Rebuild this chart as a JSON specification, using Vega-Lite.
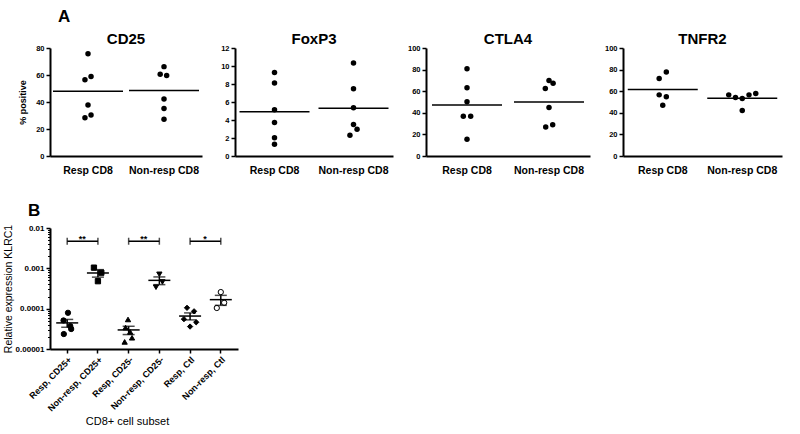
{
"$schema": "https://vega.github.io/schema/vega-lite/v6.json",
"background": "white",
"padding": {"left": 3, "top": 8, "right": 5, "bottom": 2},
"config": {
  "font": "Liberation Sans",
  "view": {"stroke": null},
  "axis": {"domainColor": "black", "domainWidth": 2, "tickColor": "black", "tickWidth": 1.5, "tickSize": 4, "labelColor": "black", "titleColor": "black", "labelFont": "Liberation Sans", "titleFont": "Liberation Sans", "grid": false, "labelPadding": 2, "labelOverlap": false},
  "title": {"font": "Liberation Sans", "fontWeight": "bold", "color": "black"}
},
"datasets": {
  "a": [
    {"marker": "CD25", "group": "Resp CD8", "value": 75.7, "jitter": 0},
    {"marker": "CD25", "group": "Resp CD8", "value": 58.9, "jitter": 0.08},
    {"marker": "CD25", "group": "Resp CD8", "value": 56.4, "jitter": -0.08},
    {"marker": "CD25", "group": "Resp CD8", "value": 37.7, "jitter": 0},
    {"marker": "CD25", "group": "Resp CD8", "value": 30.4, "jitter": 0.08},
    {"marker": "CD25", "group": "Resp CD8", "value": 28.4, "jitter": -0.08},
    {"marker": "CD25", "group": "Non-resp CD8", "value": 66.2, "jitter": 0},
    {"marker": "CD25", "group": "Non-resp CD8", "value": 60.6, "jitter": -0.1},
    {"marker": "CD25", "group": "Non-resp CD8", "value": 59.6, "jitter": 0.07},
    {"marker": "CD25", "group": "Non-resp CD8", "value": 42.3, "jitter": 0},
    {"marker": "CD25", "group": "Non-resp CD8", "value": 35.2, "jitter": 0},
    {"marker": "CD25", "group": "Non-resp CD8", "value": 27.2, "jitter": 0},
    {"marker": "FoxP3", "group": "Resp CD8", "value": 9.29, "jitter": 0},
    {"marker": "FoxP3", "group": "Resp CD8", "value": 8.1, "jitter": 0},
    {"marker": "FoxP3", "group": "Resp CD8", "value": 5.13, "jitter": 0},
    {"marker": "FoxP3", "group": "Resp CD8", "value": 3.72, "jitter": 0},
    {"marker": "FoxP3", "group": "Resp CD8", "value": 2.04, "jitter": 0},
    {"marker": "FoxP3", "group": "Resp CD8", "value": 1.3, "jitter": 0},
    {"marker": "FoxP3", "group": "Non-resp CD8", "value": 10.33, "jitter": 0},
    {"marker": "FoxP3", "group": "Non-resp CD8", "value": 7.47, "jitter": 0},
    {"marker": "FoxP3", "group": "Non-resp CD8", "value": 5.35, "jitter": 0},
    {"marker": "FoxP3", "group": "Non-resp CD8", "value": 3.49, "jitter": 0},
    {"marker": "FoxP3", "group": "Non-resp CD8", "value": 2.97, "jitter": 0.09},
    {"marker": "FoxP3", "group": "Non-resp CD8", "value": 2.3, "jitter": -0.09},
    {"marker": "CTLA4", "group": "Resp CD8", "value": 80.7, "jitter": 0},
    {"marker": "CTLA4", "group": "Resp CD8", "value": 63.1, "jitter": 0},
    {"marker": "CTLA4", "group": "Resp CD8", "value": 50.3, "jitter": 0},
    {"marker": "CTLA4", "group": "Resp CD8", "value": 36.9, "jitter": -0.09},
    {"marker": "CTLA4", "group": "Resp CD8", "value": 36.9, "jitter": 0.09},
    {"marker": "CTLA4", "group": "Resp CD8", "value": 15.5, "jitter": 0},
    {"marker": "CTLA4", "group": "Non-resp CD8", "value": 69.9, "jitter": 0},
    {"marker": "CTLA4", "group": "Non-resp CD8", "value": 67.3, "jitter": 0.1},
    {"marker": "CTLA4", "group": "Non-resp CD8", "value": 62.5, "jitter": -0.09},
    {"marker": "CTLA4", "group": "Non-resp CD8", "value": 44.9, "jitter": 0},
    {"marker": "CTLA4", "group": "Non-resp CD8", "value": 28.9, "jitter": 0.09},
    {"marker": "CTLA4", "group": "Non-resp CD8", "value": 26.8, "jitter": -0.08},
    {"marker": "TNFR2", "group": "Resp CD8", "value": 77.7, "jitter": 0.09},
    {"marker": "TNFR2", "group": "Resp CD8", "value": 71.7, "jitter": -0.09},
    {"marker": "TNFR2", "group": "Resp CD8", "value": 56.6, "jitter": -0.09},
    {"marker": "TNFR2", "group": "Resp CD8", "value": 54.8, "jitter": 0.09},
    {"marker": "TNFR2", "group": "Resp CD8", "value": 47.0, "jitter": 0},
    {"marker": "TNFR2", "group": "Non-resp CD8", "value": 56.6, "jitter": -0.34},
    {"marker": "TNFR2", "group": "Non-resp CD8", "value": 54.2, "jitter": -0.17},
    {"marker": "TNFR2", "group": "Non-resp CD8", "value": 53.3, "jitter": 0},
    {"marker": "TNFR2", "group": "Non-resp CD8", "value": 56.6, "jitter": 0.17},
    {"marker": "TNFR2", "group": "Non-resp CD8", "value": 57.8, "jitter": 0.34},
    {"marker": "TNFR2", "group": "Non-resp CD8", "value": 42.2, "jitter": 0}
  ],
  "b": [
    {"subset": "Resp, CD25+", "value": 0.000079, "jitter": 0.05},
    {"subset": "Resp, CD25+", "value": 0.000051, "jitter": -0.24},
    {"subset": "Resp, CD25+", "value": 0.000037, "jitter": 0.2},
    {"subset": "Resp, CD25+", "value": 0.0000313, "jitter": 0.26},
    {"subset": "Resp, CD25+", "value": 0.0000235, "jitter": -0.22},
    {"subset": "Non-resp, CD25+", "value": 0.00104, "jitter": -0.26},
    {"subset": "Non-resp, CD25+", "value": 0.00078, "jitter": 0.22},
    {"subset": "Non-resp, CD25+", "value": 0.00048, "jitter": 0},
    {"subset": "Resp, CD25-", "value": 0.000054, "jitter": -0.04},
    {"subset": "Resp, CD25-", "value": 0.000034, "jitter": -0.2},
    {"subset": "Resp, CD25-", "value": 0.0000265, "jitter": 0.1},
    {"subset": "Resp, CD25-", "value": 0.000019, "jitter": 0.22},
    {"subset": "Resp, CD25-", "value": 0.000015, "jitter": -0.26},
    {"subset": "Non-resp, CD25-", "value": 0.00071, "jitter": 0},
    {"subset": "Non-resp, CD25-", "value": 0.00046, "jitter": 0.2},
    {"subset": "Non-resp, CD25-", "value": 0.00034, "jitter": -0.22},
    {"subset": "Resp, Ctl", "value": 0.000105, "jitter": -0.2},
    {"subset": "Resp, Ctl", "value": 0.000086, "jitter": 0.26},
    {"subset": "Resp, Ctl", "value": 0.000055, "jitter": -0.4},
    {"subset": "Resp, Ctl", "value": 0.000046, "jitter": 0.4},
    {"subset": "Resp, Ctl", "value": 0.000036, "jitter": 0},
    {"subset": "Non-resp, Ctl", "value": 0.000258, "jitter": 0},
    {"subset": "Non-resp, Ctl", "value": 0.00014, "jitter": 0.22},
    {"subset": "Non-resp, Ctl", "value": 0.000104, "jitter": -0.26}
  ],
  "br": [
    {"from": "Resp, CD25+", "to": "Non-resp, CD25+", "value": 0.0047, "label": "**"},
    {"from": "Resp, CD25-", "to": "Non-resp, CD25-", "value": 0.0047, "label": "**"},
    {"from": "Resp, Ctl", "to": "Non-resp, Ctl", "value": 0.0047, "label": "*"}
  ]
},
"title": {"text": "A", "anchor": "start", "frame": "group", "fontSize": 17, "dx": 8, "offset": 6},
"spacing": 26,
"resolve": {"scale": {"xOffset": "independent"}},
"vconcat": [
 {
 "bounds": "flush",
 "spacing": 33,
 "resolve": {"scale": {"xOffset": "independent"}},
 "hconcat": [
  {
    "width": 152, "height": 108,
    "title": {"text": "CD25", "fontSize": 15, "offset": -3},
    "data": {"name": "a"},
    "transform": [{"filter": "datum.marker == 'CD25'"}],
    "encoding": {"x": {"field": "group", "type": "nominal", "scale": {"domain": ["Resp CD8", "Non-resp CD8"], "paddingInner": 0, "paddingOuter": 0}, "axis": {"title": null, "labelAngle": 0, "ticks": false, "labelPadding": 9, "labelFontSize": 10.5, "labelFontWeight": "bold", "labelLimit": 200}}},
    "layer": [
      {"mark": {"type": "circle", "size": 30, "color": "black", "opacity": 1},
       "encoding": {"y": {"field": "value", "type": "quantitative", "scale": {"domain": [0, 80], "nice": false}, "axis": {"values": [0, 20, 40, 60, 80], "labelOverlap": false, "title": "% positive", "titleFontSize": 9, "titleFontWeight": "bold", "titlePadding": 8, "labelFontSize": 7.5, "labelFontWeight": "bold"}},
                    "xOffset": {"field": "jitter", "type": "quantitative", "scale": {"domain": [-1, 1], "range": [0, 76]}}}},
      {"mark": {"type": "tick", "orient": "horizontal", "size": 70, "thickness": 1.5, "color": "black"},
       "encoding": {"y": {"aggregate": "mean", "field": "value", "type": "quantitative", "axis": {"values": [0, 20, 40, 60, 80], "labelOverlap": false, "title": "% positive", "titleFontSize": 9, "titleFontWeight": "bold", "titlePadding": 8, "labelFontSize": 7.5, "labelFontWeight": "bold"}}}}
    ]
  },
  {
    "width": 158, "height": 108,
    "title": {"text": "FoxP3", "fontSize": 15, "offset": -3},
    "data": {"name": "a"},
    "transform": [{"filter": "datum.marker == 'FoxP3'"}],
    "encoding": {"x": {"field": "group", "type": "nominal", "scale": {"domain": ["Resp CD8", "Non-resp CD8"], "paddingInner": 0, "paddingOuter": 0}, "axis": {"title": null, "labelAngle": 0, "ticks": false, "labelPadding": 9, "labelFontSize": 10.5, "labelFontWeight": "bold", "labelLimit": 200}}},
    "layer": [
      {"mark": {"type": "circle", "size": 30, "color": "black", "opacity": 1},
       "encoding": {"y": {"field": "value", "type": "quantitative", "scale": {"domain": [0, 12], "nice": false}, "axis": {"values": [0, 2, 4, 6, 8, 10, 12], "labelOverlap": false, "title": null, "labelFontSize": 7.5, "labelFontWeight": "bold"}},
                    "xOffset": {"field": "jitter", "type": "quantitative", "scale": {"domain": [-1, 1], "range": [0, 79]}}}},
      {"mark": {"type": "tick", "orient": "horizontal", "size": 70, "thickness": 1.5, "color": "black"},
       "encoding": {"y": {"aggregate": "mean", "field": "value", "type": "quantitative", "axis": {"values": [0, 2, 4, 6, 8, 10, 12], "labelOverlap": false, "title": null, "labelFontSize": 7.5, "labelFontWeight": "bold"}}}}
    ]
  },
  {
    "width": 164, "height": 108,
    "title": {"text": "CTLA4", "fontSize": 15, "offset": -3},
    "data": {"name": "a"},
    "transform": [{"filter": "datum.marker == 'CTLA4'"}],
    "encoding": {"x": {"field": "group", "type": "nominal", "scale": {"domain": ["Resp CD8", "Non-resp CD8"], "paddingInner": 0, "paddingOuter": 0}, "axis": {"title": null, "labelAngle": 0, "ticks": false, "labelPadding": 9, "labelFontSize": 10.5, "labelFontWeight": "bold", "labelLimit": 200}}},
    "layer": [
      {"mark": {"type": "circle", "size": 30, "color": "black", "opacity": 1},
       "encoding": {"y": {"field": "value", "type": "quantitative", "scale": {"domain": [0, 100], "nice": false}, "axis": {"values": [0, 20, 40, 60, 80, 100], "labelOverlap": false, "title": null, "labelFontSize": 7.5, "labelFontWeight": "bold"}},
                    "xOffset": {"field": "jitter", "type": "quantitative", "scale": {"domain": [-1, 1], "range": [0, 82]}}}},
      {"mark": {"type": "tick", "orient": "horizontal", "size": 70, "thickness": 1.5, "color": "black"},
       "encoding": {"y": {"aggregate": "mean", "field": "value", "type": "quantitative", "axis": {"values": [0, 20, 40, 60, 80, 100], "labelOverlap": false, "title": null, "labelFontSize": 7.5, "labelFontWeight": "bold"}}}}
    ]
  },
  {
    "width": 159, "height": 108,
    "title": {"text": "TNFR2", "fontSize": 15, "offset": -3},
    "data": {"name": "a"},
    "transform": [{"filter": "datum.marker == 'TNFR2'"}],
    "encoding": {"x": {"field": "group", "type": "nominal", "scale": {"domain": ["Resp CD8", "Non-resp CD8"], "paddingInner": 0, "paddingOuter": 0}, "axis": {"title": null, "labelAngle": 0, "ticks": false, "labelPadding": 9, "labelFontSize": 10.5, "labelFontWeight": "bold", "labelLimit": 200}}},
    "layer": [
      {"mark": {"type": "circle", "size": 30, "color": "black", "opacity": 1},
       "encoding": {"y": {"field": "value", "type": "quantitative", "scale": {"domain": [0, 100], "nice": false}, "axis": {"values": [0, 20, 40, 60, 80, 100], "labelOverlap": false, "title": null, "labelFontSize": 7.5, "labelFontWeight": "bold"}},
                    "xOffset": {"field": "jitter", "type": "quantitative", "scale": {"domain": [-1, 1], "range": [0, 79.5]}}}},
      {"mark": {"type": "tick", "orient": "horizontal", "size": 70, "thickness": 1.5, "color": "black"},
       "encoding": {"y": {"aggregate": "mean", "field": "value", "type": "quantitative", "axis": {"values": [0, 20, 40, 60, 80, 100], "labelOverlap": false, "title": null, "labelFontSize": 7.5, "labelFontWeight": "bold"}}}}
    ]
  }
 ]
 },
  {
    "width": 188, "height": 121,
    "title": {"text": "B", "anchor": "start", "frame": "group", "fontSize": 17, "dx": -22, "offset": 4},
    "resolve": {"axis": {"y": "independent"}},
    "layer": [
      {"data": {"name": "b"},
       "mark": {"type": "point", "filled": true, "size": 28, "stroke": "black", "strokeWidth": 1, "opacity": 1},
       "encoding": {
         "x": {"field": "subset", "type": "nominal", "scale": {"domain": ["Resp, CD25+", "Non-resp, CD25+", "Resp, CD25-", "Non-resp, CD25-", "Resp, Ctl", "Non-resp, Ctl"], "paddingInner": 0, "paddingOuter": 0.06}, "axis": {"title": "CD8+ cell subset", "titleX": 77, "labelAngle": -45, "labelFontSize": 9, "labelFontWeight": "bold", "labelLimit": 200, "titleFontSize": 11, "titleFontWeight": "normal", "titlePadding": 3}},
         "xOffset": {"field": "jitter", "type": "quantitative", "scale": {"domain": [-1, 1], "range": [0, 30.72]}},
         "y": {"field": "value", "type": "quantitative", "scale": {"type": "log", "domain": [0.00001, 0.01], "nice": false}, "axis": {"orient": "left", "values": [0.00001, 0.0001, 0.001, 0.01], "format": ".5~f", "title": "Relative expression KLRC1", "titleFontSize": 10.5, "titleFontWeight": "normal", "titlePadding": 2, "labelFontSize": 8, "labelFontWeight": "bold"}},
         "shape": {"field": "subset", "type": "nominal", "scale": {"domain": ["Resp, CD25+", "Non-resp, CD25+", "Resp, CD25-", "Non-resp, CD25-", "Resp, Ctl", "Non-resp, Ctl"], "range": ["circle", "square", "triangle-up", "triangle-down", "diamond", "circle"]}, "legend": null},
         "fill": {"field": "subset", "type": "nominal", "scale": {"domain": ["Resp, CD25+", "Non-resp, CD25+", "Resp, CD25-", "Non-resp, CD25-", "Resp, Ctl", "Non-resp, Ctl"], "range": ["black", "black", "black", "black", "black", "white"]}, "legend": null}
       }},
      {"data": {"name": "b"},
       "mark": {"type": "tick", "orient": "horizontal", "size": 22, "thickness": 1.5, "color": "black"},
       "encoding": {
         "x": {"field": "subset", "type": "nominal", "scale": {"domain": ["Resp, CD25+", "Non-resp, CD25+", "Resp, CD25-", "Non-resp, CD25-", "Resp, Ctl", "Non-resp, Ctl"], "paddingInner": 0, "paddingOuter": 0.06}, "axis": {"title": "CD8+ cell subset", "titleX": 77, "labelAngle": -45, "labelFontSize": 9, "labelFontWeight": "bold", "labelLimit": 200, "titleFontSize": 11, "titleFontWeight": "normal", "titlePadding": 3}},
         "y": {"aggregate": "mean", "field": "value", "type": "quantitative", "axis": {"orient": "left", "values": [0.00002, 0.00003, 0.00004, 0.00005, 0.00006, 0.00007, 0.00008, 0.00009, 0.0002, 0.0003, 0.0004, 0.0005, 0.0006, 0.0007, 0.0008, 0.0009, 0.002, 0.003, 0.004, 0.005, 0.006, 0.007, 0.008, 0.009], "labels": false, "domain": false, "tickSize": 2.5, "tickWidth": 1, "title": null}}
       }},
      {"data": {"name": "b"},
       "mark": {"type": "errorbar", "extent": "stderr", "ticks": {"size": 12, "thickness": 1.5, "color": "black"}, "thickness": 1.5, "color": "black"},
       "encoding": {
         "x": {"field": "subset", "type": "nominal", "scale": {"domain": ["Resp, CD25+", "Non-resp, CD25+", "Resp, CD25-", "Non-resp, CD25-", "Resp, Ctl", "Non-resp, Ctl"], "paddingInner": 0, "paddingOuter": 0.06}, "axis": {"title": "CD8+ cell subset", "titleX": 77, "labelAngle": -45, "labelFontSize": 9, "labelFontWeight": "bold", "labelLimit": 200, "titleFontSize": 11, "titleFontWeight": "normal", "titlePadding": 3}},
         "y": {"field": "value", "type": "quantitative", "axis": null}
       }},
      {"data": {"name": "br"},
       "mark": {"type": "rule", "strokeWidth": 1.5, "color": "black"},
       "encoding": {
         "x": {"field": "from", "type": "nominal", "bandPosition": 0.5, "scale": {"domain": ["Resp, CD25+", "Non-resp, CD25+", "Resp, CD25-", "Non-resp, CD25-", "Resp, Ctl", "Non-resp, Ctl"], "paddingInner": 0, "paddingOuter": 0.06}, "axis": {"title": "CD8+ cell subset", "titleX": 77, "labelAngle": -45, "labelFontSize": 9, "labelFontWeight": "bold", "labelLimit": 200, "titleFontSize": 11, "titleFontWeight": "normal", "titlePadding": 3}},
         "x2": {"field": "to", "bandPosition": 0.5},
         "y": {"field": "value", "type": "quantitative", "axis": null}
       }},
      {"data": {"name": "br"},
       "transform": [{"fold": ["from", "to"], "as": ["end", "cat"]}],
       "mark": {"type": "tick", "orient": "vertical", "size": 7, "thickness": 1.5, "color": "black"},
       "encoding": {
         "x": {"field": "cat", "type": "nominal", "scale": {"domain": ["Resp, CD25+", "Non-resp, CD25+", "Resp, CD25-", "Non-resp, CD25-", "Resp, Ctl", "Non-resp, Ctl"], "paddingInner": 0, "paddingOuter": 0.06}, "axis": {"title": "CD8+ cell subset", "titleX": 77, "labelAngle": -45, "labelFontSize": 9, "labelFontWeight": "bold", "labelLimit": 200, "titleFontSize": 11, "titleFontWeight": "normal", "titlePadding": 3}},
         "y": {"field": "value", "type": "quantitative", "axis": null}
       }},
      {"data": {"name": "br"},
       "mark": {"type": "text", "dx": 15, "dy": 1, "baseline": "alphabetic", "fontSize": 9, "fontWeight": "bold", "color": "black"},
       "encoding": {
         "x": {"field": "from", "type": "nominal", "scale": {"domain": ["Resp, CD25+", "Non-resp, CD25+", "Resp, CD25-", "Non-resp, CD25-", "Resp, Ctl", "Non-resp, Ctl"], "paddingInner": 0, "paddingOuter": 0.06}, "axis": {"title": "CD8+ cell subset", "titleX": 77, "labelAngle": -45, "labelFontSize": 9, "labelFontWeight": "bold", "labelLimit": 200, "titleFontSize": 11, "titleFontWeight": "normal", "titlePadding": 3}},
         "y": {"field": "value", "type": "quantitative", "axis": null},
         "text": {"field": "label"}
       }}
    ]
  }
]
}
